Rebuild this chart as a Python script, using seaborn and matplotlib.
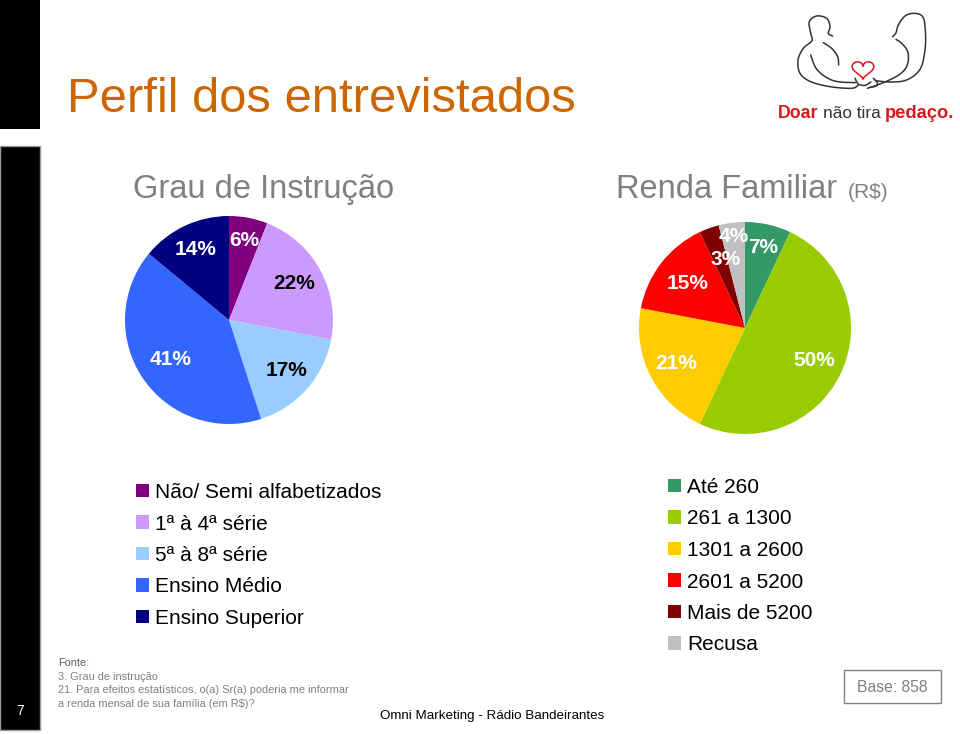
import numpy as np
import matplotlib
matplotlib.use("Agg")
import matplotlib.pyplot as plt
import seaborn as sns
from matplotlib.patches import Rectangle

sns.set_style("white")
plt.rcParams['font.family'] = ['Liberation Sans', 'DejaVu Sans']

# ---------------- data ----------------
edu_labels = ["Não/ Semi alfabetizados", "1ª à 4ª série", "5ª à 8ª série",
              "Ensino Médio", "Ensino Superior"]
edu_values = [6, 22, 17, 41, 14]
edu_colors = ["#800080", "#CC99FF", "#99CCFF", "#3366FF", "#000080"]
edu_text_colors = ["white", "black", "black", "white", "white"]
edu_label_dist = [0.78, 0.72, 0.74, 0.68, 0.75]

inc_labels = ["Até 260", "261 a 1300", "1301 a 2600", "2601 a 5200",
              "Mais de 5200", "Recusa"]
inc_values = [7, 50, 21, 15, 3, 4]
inc_colors = ["#339966", "#99CC00", "#FFCC00", "#FF0000", "#800000", "#C0C0C0"]
inc_text_colors = ["white"] * 6
inc_label_dist = [0.78, 0.72, 0.73, 0.68, 0.67, 0.87]
inc_label_dangle = [0, 0, 0, 0, -4, 0]

W, H = 960, 734
fig = plt.figure(figsize=(W / 100, H / 100), dpi=100)


def fx(x):
    return x / W


def fy(y):
    return 1 - y / H


def pie_axes(cx, cy, r):
    w = 2.5 * r
    return fig.add_axes([fx(cx - w / 2), fy(cy + w / 2), w / W, w / H])


def draw_pie(ax, values, colors, tcolors, dists, dangles=None):
    wedges, _ = ax.pie(values, colors=sns.color_palette(colors),
                       startangle=90, counterclock=False,
                       wedgeprops=dict(linewidth=0))
    for i, (wd, v) in enumerate(zip(wedges, values)):
        ang = (wd.theta1 + wd.theta2) / 2
        if dangles:
            ang += dangles[i]
        a = np.deg2rad(ang)
        ax.text(dists[i] * np.cos(a), dists[i] * np.sin(a), f"{v}%",
                ha="center", va="center", fontsize=15, fontweight="bold",
                color=tcolors[i])
    return wedges


# left black bars
fig.patches.append(Rectangle((0, fy(129)), fx(40), 129 / H, transform=fig.transFigure,
                             facecolor="black", edgecolor="none"))
fig.patches.append(Rectangle((0, fy(730)), fx(40), (730 - 146) / H, transform=fig.transFigure,
                             facecolor="black", edgecolor="#999999", linewidth=1))
fig.text(fx(20), fy(711), "7", color="white", fontsize=10, ha="center", va="center")

# title
fig.text(fx(67), fy(100), "Perfil dos entrevistados", color="#CC6600",
         fontsize=35.3, ha="left", va="center")

# ---------------- logo ----------------
def smooth(pts, n=12):
    p = np.array(pts, dtype=float)
    p = np.vstack([p[0], p, p[-1]])
    out = []
    for i in range(1, len(p) - 2):
        p0, p1, p2, p3 = p[i - 1], p[i], p[i + 1], p[i + 2]
        for t in np.linspace(0, 1, n, endpoint=False):
            t2, t3 = t * t, t * t * t
            out.append(0.5 * ((2 * p1) + (-p0 + p2) * t + (2 * p0 - 5 * p1 + 4 * p2 - p3) * t2
                              + (-p0 + 3 * p1 - 3 * p2 + p3) * t3))
    out.append(p[-2])
    return np.array(out)


logo_ax = fig.add_axes([0, 0, 1, 1], zorder=-1)
logo_ax.set_xlim(0, W)
logo_ax.set_ylim(H, 0)
logo_ax.axis("off")
ox, oy, s = 790, 10, 1 / 3
strokes = [
    # left person: head and back
    [(128, 78), (115, 70), (120, 50), (110, 25), (80, 18), (58, 35), (62, 70), (66, 92),
     (40, 115), (24, 150), (30, 190), (62, 215), (120, 230), (185, 235), (205, 225)],
    # left person: chest/arm
    [(100, 98), (125, 115), (143, 140), (146, 165)],
    [(62, 135), (82, 180), (130, 212), (196, 218)],
    # right person: head and back
    [(308, 80), (318, 68), (325, 45), (345, 18), (372, 10), (398, 20), (406, 60), (405, 120),
     (390, 178), (350, 210), (300, 216), (256, 212)],
    # right person: chest/arm
    [(318, 88), (335, 100), (352, 122), (355, 150), (345, 178), (318, 200), (270, 222), (232, 235)],
    # hands
    [(195, 205), (205, 222), (225, 226), (243, 216)],
    [(250, 205), (262, 218), (258, 228), (240, 232)],
]
for st in strokes:
    c = smooth(st)
    logo_ax.plot(ox + c[:, 0] * s, oy + c[:, 1] * s, color="#333333", lw=1.1,
                 solid_capstyle="round")
tt = np.linspace(0, 2 * np.pi, 200)
hx = 16 * np.sin(tt) ** 3
hy = 13 * np.cos(tt) - 5 * np.cos(2 * tt) - 2 * np.cos(3 * tt) - np.cos(4 * tt)
logo_ax.plot(863 + hx * 0.68, 69 - hy * 0.6, color="#D7191C", lw=1.1)

fig.text(fx(778), fy(114), "Doar", color="#D7191C", fontsize=12.8, fontweight="bold",
         ha="left", va="center")
fig.text(fx(823), fy(114), "não tira", color="#333333", fontsize=12.4,
         ha="left", va="center")
fig.text(fx(885), fy(114), "pedaço.", color="#D7191C", fontsize=13.2, fontweight="bold",
         ha="left", va="center")

# subtitles
fig.text(fx(133), fy(189), "Grau de Instrução", color="#808080", fontsize=23.5,
         ha="left", va="center")
fig.text(fx(616), fy(189), "Renda Familiar", color="#808080", fontsize=23.5,
         ha="left", va="center")
fig.text(fx(848), fy(192), "(R$)", color="#808080", fontsize=15,
         ha="left", va="center")

# pies
ax1 = pie_axes(229, 320, 104)
w1 = draw_pie(ax1, edu_values, edu_colors, edu_text_colors, edu_label_dist)
ax2 = pie_axes(745, 328, 106)
w2 = draw_pie(ax2, inc_values, inc_colors, inc_text_colors, inc_label_dist, inc_label_dangle)

legend_kw = dict(frameon=False, fontsize=15, handlelength=0.62, handleheight=0.62,
                 handletextpad=0.3, labelspacing=0.6, borderpad=0, borderaxespad=0,
                 loc="upper left", bbox_transform=fig.transFigure)
leg1 = fig.legend(w1, edu_labels, bbox_to_anchor=(fx(136), fy(483)), **legend_kw)
leg2 = fig.legend(w2, inc_labels, bbox_to_anchor=(fx(668), fy(478)), **legend_kw)
for leg in (leg1, leg2):
    for t in leg.get_texts():
        t.set_color("black")

# footnotes
fig.text(fx(58), fy(663), "Fonte:", color="#606060", fontsize=7.9, ha="left", va="center")
notes = ["3. Grau de instrução",
         "21. Para efeitos estatísticos, o(a) Sr(a) poderia me informar",
         "a renda mensal de sua família (em R$)?"]
for i, n in enumerate(notes):
    fig.text(fx(58), fy(677 + 13.3 * i), n, color="#808080", fontsize=7.9,
             ha="left", va="center")
fig.text(fx(492), fy(716), "Omni Marketing - Rádio Bandeirantes", color="black",
         fontsize=9.6, ha="center", va="center")
fig.patches.append(Rectangle((fx(844), fy(703)), 97 / W, 33 / H, transform=fig.transFigure,
                             facecolor="white", edgecolor="#808080", linewidth=1))
fig.text(fx(892.5), fy(688), "Base: 858", color="#808080", fontsize=11.3, ha="center",
         va="center")

fig.savefig("out.png", dpi=100)
